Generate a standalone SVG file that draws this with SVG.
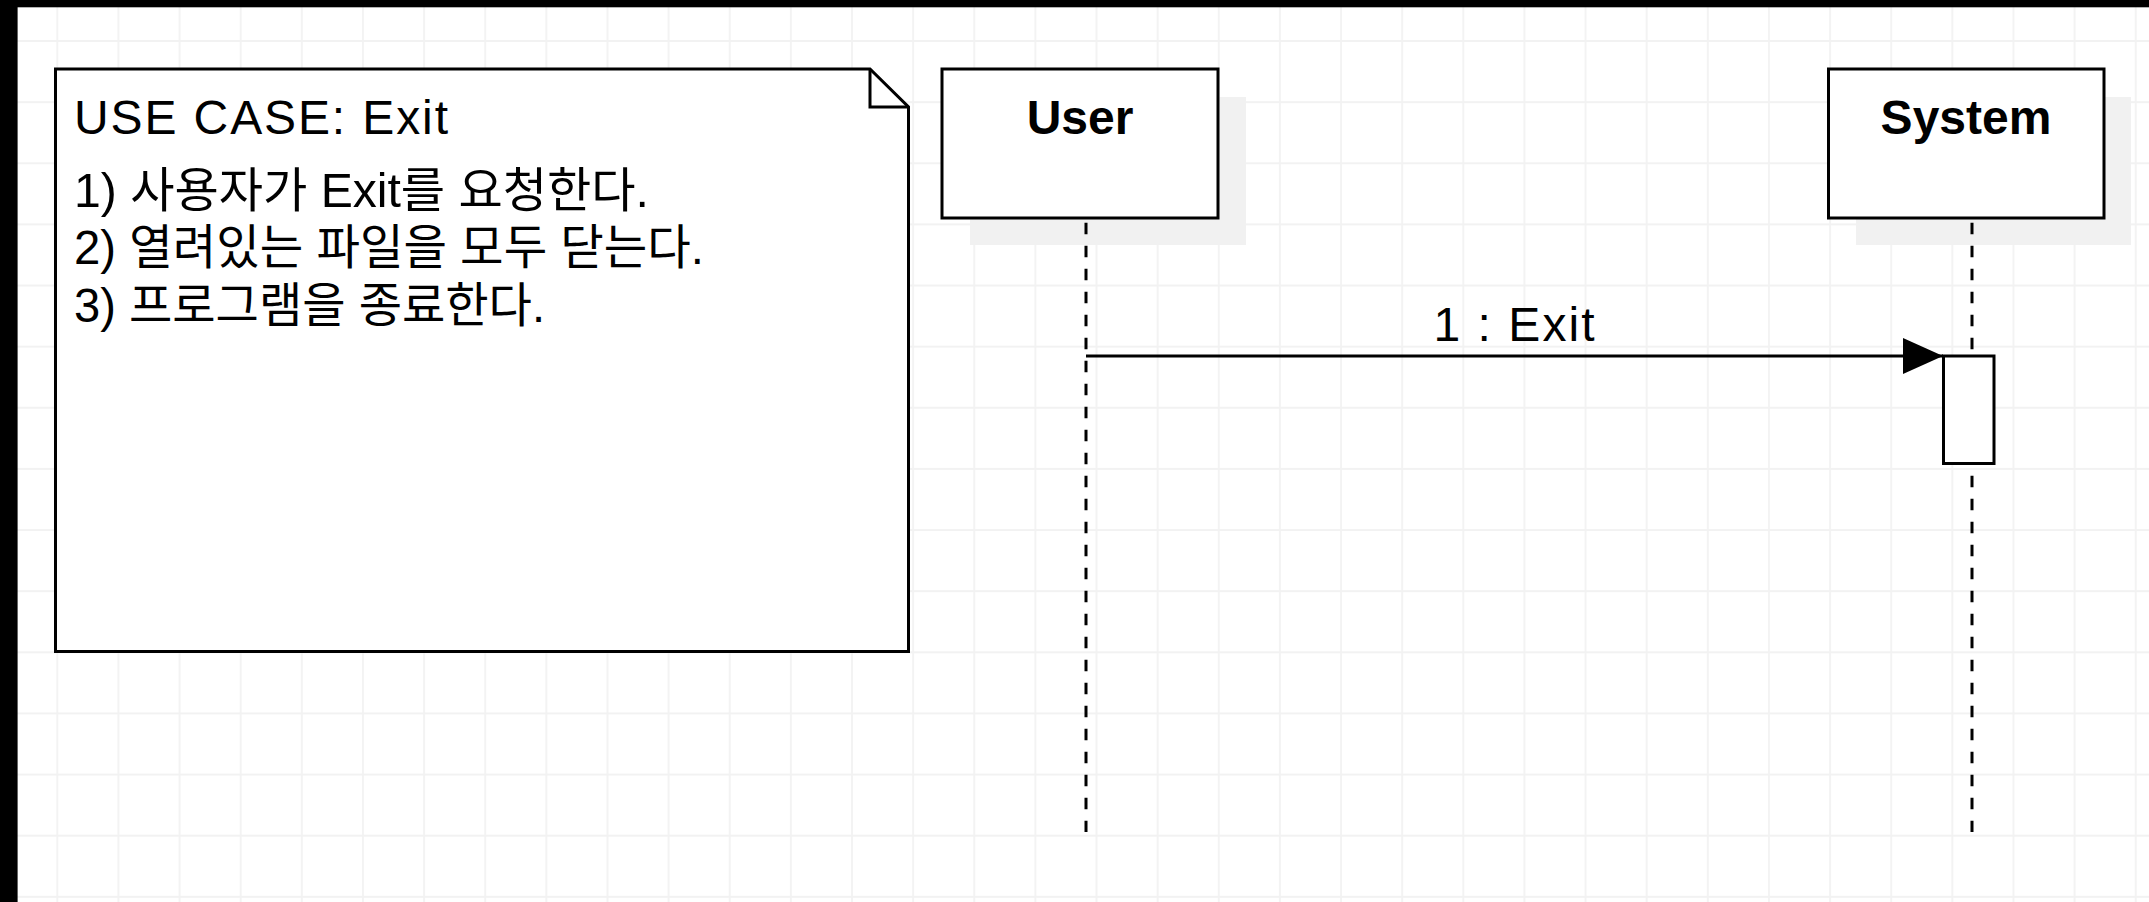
<svg xmlns="http://www.w3.org/2000/svg" width="2149" height="902" viewBox="0 0 2149 902">
<style>
.ln{fill:none;stroke:#000;stroke-width:3}
.box{fill:#fff;stroke:#000;stroke-width:3}
.shadow{fill:#f1f1f1;stroke:none}
.life{fill:none;stroke:#000;stroke-width:3;stroke-dasharray:11.5 11.5}
.t{font-family:"Liberation Sans","Noto Sans CJK KR",sans-serif;font-size:48px;fill:#000}
.b{font-weight:bold;text-anchor:middle}
</style>
<defs>
<pattern id="grid" width="61.13" height="61.13" patternUnits="userSpaceOnUse" x="26.74" y="10.44">
<path d="M30.565 0V61.13M0 30.565H61.13" stroke="#f2f2f2" stroke-width="1.8" fill="none"/>
</pattern>
<marker id="block" viewBox="0 0 40 36" markerWidth="40" markerHeight="36" markerUnits="userSpaceOnUse" refX="40" refY="18" orient="auto">
<path d="M0,0 L40,18 L0,36 Z" fill="#000"/>
</marker>
</defs>
<rect x="0" y="0" width="2149" height="902" fill="#fff"/>
<rect x="0" y="0" width="2149" height="902" fill="url(#grid)"/>
<rect x="0" y="0" width="2149" height="7.3" fill="#000"/>
<rect x="0" y="0" width="17.6" height="902" fill="#000"/>

<g id="note">
<path class="box" d="M55.5,69 L870,69 L908.5,107 L908.5,651.5 L55.5,651.5 Z"/>
<path class="ln" d="M870,69 L870,107 L908.5,107"/>
<text class="t" x="74" y="134.3" textLength="374" lengthAdjust="spacing">USE CASE: Exit</text>
<text class="t" x="74" y="206.5" textLength="575" lengthAdjust="spacingAndGlyphs">1) 사용자가 Exit를 요청한다.</text>
<text class="t" x="74" y="264.2" textLength="630" lengthAdjust="spacingAndGlyphs">2) 열려있는 파일을 모두 닫는다.</text>
<text class="t" x="74" y="321.7" textLength="471" lengthAdjust="spacingAndGlyphs">3) 프로그램을 종료한다.</text>
</g>

<g id="user">
<rect class="shadow" x="970" y="97" width="276" height="148"/>
<rect class="box" x="942" y="69" width="276" height="149"/>
<text class="t b" x="1080" y="134">User</text>
<path class="life" d="M1086,222.7 V832"/>
</g>

<g id="system">
<rect class="shadow" x="1856" y="97" width="275" height="148"/>
<rect class="box" x="1828.5" y="69" width="275.5" height="149"/>
<text class="t b" x="1966" y="134">System</text>
<path class="life" d="M1972,222.7 V832"/>
<rect id="activation" class="box" x="1943.5" y="356" width="50.5" height="107.5"/>
</g>

<g id="connectors">
<path class="ln" d="M1086,356 H1943" marker-end="url(#block)"/>
<text class="t" x="1514" y="341" text-anchor="middle" textLength="161" lengthAdjust="spacing">1 : Exit</text>
</g>
</svg>
